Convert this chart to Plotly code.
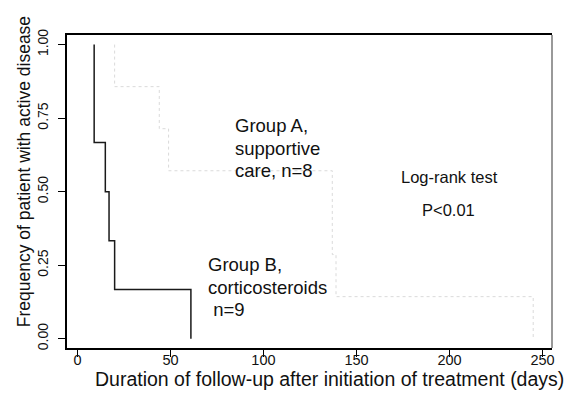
import plotly.graph_objects as go

# Kaplan-Meier style step data
a_time = [20, 44, 49, 137, 139, 245]
a_surv = [0.857, 0.714, 0.571, 0.286, 0.143, 0.0]
b_time = [9, 15, 17, 20, 61]
b_surv = [0.667, 0.5, 0.333, 0.167, 0.0]

x_ticks = [0, 50, 100, 150, 200, 250]
y_ticks = [0.0, 0.25, 0.5, 0.75, 1.0]
y_ticklabels = ["0.00", "0.25", "0.50", "0.75", "1.00"]

FONT = "Liberation Sans, Arial, sans-serif"
TXT = "#111111"

fig = go.Figure()
fig.add_trace(go.Scatter(
    x=[a_time[0]] + a_time, y=[1.0] + a_surv, mode="lines",
    line=dict(shape="hv", color="#dadada", width=1, dash="dot"),
    showlegend=False, hoverinfo="skip"))
fig.add_trace(go.Scatter(
    x=[b_time[0]] + b_time, y=[1.0] + b_surv, mode="lines",
    line=dict(shape="hv", color="#1a1a1a", width=1.5),
    showlegend=False, hoverinfo="skip"))

anns = [
    ("Group A,", 233, 125, 18.5),
    ("supportive", 233, 148, 18.5),
    ("care, n=8", 233, 170, 18.5),
    ("Group B,", 206, 265, 18.5),
    ("corticosteroids", 206, 288, 18.5),
    (" n=9", 206, 310, 18.5),
]
X0, PXD = 77.7, 1.858
Y0, PXY = 339.0, 294.7
for t, px, py, fs in anns:
    fig.add_annotation(x=(px - X0) / PXD, y=(Y0 - py) / PXY, text=t,
                       showarrow=False, xanchor="left", yanchor="middle",
                       font=dict(family=FONT, size=fs, color=TXT))
for t, px, py, fs in [("Log-rank test", 449, 177, 16.5), ("P<0.01", 448.5, 210, 16.5)]:
    fig.add_annotation(x=(px - X0) / PXD, y=(Y0 - py) / PXY, text=t,
                       showarrow=False, xanchor="center", yanchor="middle",
                       font=dict(family=FONT, size=fs, color=TXT))

# axis titles
fig.add_annotation(xref="paper", yref="paper", x=(329 - 67.3) / (551.7 - 67.3),
                   y=-(379.5 - 348.3) / (348.3 - 34.7),
                   text="Duration of follow-up after initiation of treatment (days)",
                   showarrow=False, xanchor="center", yanchor="middle",
                   font=dict(family=FONT, size=19.5, color=TXT))
fig.add_annotation(xref="paper", yref="paper", x=-(67.3 - 24) / (551.7 - 67.3),
                   y=(348.3 - 171.5) / (348.3 - 34.7),
                   text="Frequency of patient with active disease", textangle=-90,
                   showarrow=False, xanchor="center", yanchor="middle",
                   font=dict(family=FONT, size=17.5, color=TXT))

# right border in gray
fig.add_shape(type="line", xref="paper", yref="paper", x0=1, x1=1, y0=0, y1=1,
              line=dict(color="#777777", width=1.5))

fig.update_layout(
    width=576, height=405,
    margin=dict(l=67.3, r=576 - 551.7, t=34.7, b=405 - 348.3),
    paper_bgcolor="white", plot_bgcolor="white",
    xaxis=dict(range=[-5.6, 255.1], tickvals=x_ticks, showgrid=False, zeroline=False,
               showline=True, linecolor="black", linewidth=1.5, mirror=True,
               ticks="outside", ticklen=7, tickcolor="black", tickwidth=1,
               ticklabelstandoff=-9,
               tickfont=dict(family=FONT, size=14.5, color=TXT)),
    yaxis=dict(range=[-0.0316, 1.0326], tickvals=y_ticks, ticktext=y_ticklabels,
               showgrid=False, zeroline=False, tickangle=-90,
               showline=True, linecolor="black", linewidth=1.5, mirror=False,
               ticks="outside", ticklen=7, tickcolor="black", tickwidth=1,
               ticklabelstandoff=5,
               tickfont=dict(family=FONT, size=14, color=TXT)),
)

fig.write_html("out.html")
